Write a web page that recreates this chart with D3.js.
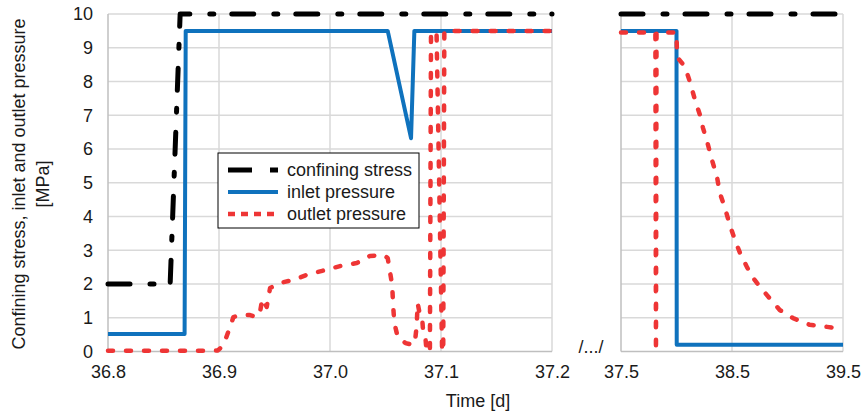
<!DOCTYPE html>
<html><head><meta charset="utf-8">
<script src="https://cdn.jsdelivr.net/npm/d3@7"></script>
<style>
html,body{margin:0;padding:0;background:#fff;}
svg{display:block;font-family:"Liberation Sans",Arial,sans-serif;}
</style></head>
<body>
<svg id="c" width="862" height="420"></svg>
<script>
// ---- data ----
const yTicks = [0,1,2,3,4,5,6,7,8,9,10];
const leftTicks = [36.8,36.9,37.0,37.1,37.2];
const rightTicks = [37.5,38.5,39.5];
const seriesNames = ["confining stress","inlet pressure","outlet pressure"];

// left panel (time in days, value in MPa)
const confiningLeft = [[36.8,2],[36.856,2],[36.865,10],[37.2,10]];
const inletLeft = [[36.8,0.52],[36.869,0.52],[36.870,9.5],[37.052,9.5],[37.073,6.32],[37.076,9.5],[37.2,9.5]];
const outletLeft = [[36.8,0.02],[36.883,0.02],[36.899,0.03],[36.904,0.19],[36.910,0.73],[36.913,1.02],[36.919,1.08],
  [36.928,1.08],[36.934,1.02],[36.937,1.17],[36.939,1.56],[36.943,1.32],[36.946,1.88],[36.955,2.03],[36.967,2.12],
  [36.979,2.27],[36.993,2.39],[37.009,2.53],[37.024,2.62],[37.036,2.83],[37.048,2.86],[37.052,2.77],[37.056,1.97],
  [37.057,1.3],[37.058,0.84],[37.061,0.43],[37.068,0.25],[37.075,0.19],[37.077,0.43],[37.078,0.73],[37.079,1.43],
  [37.081,1.08],[37.083,1.0],[37.084,0.55],[37.086,0.4],[37.087,0],[37.090,0],[37.091,9.45],[37.096,9.45],
  [37.101,0],[37.102,0],[37.103,9.5],[37.2,9.5]];

// right panel
const confiningRight = [[37.5,10],[39.5,10]];
const inletRight = [[37.5,9.5],[38.0,9.5],[38.002,0.2],[39.5,0.2]];
const outletRight = [[37.5,9.45],[37.810,9.45],[37.815,0],[37.820,9.45],[38.0,9.45],[38.005,8.73],[38.077,8.43],
  [38.12,8.0],[38.167,7.45],[38.212,7.0],[38.239,6.62],[38.284,6.12],[38.32,5.67],[38.365,5.17],[38.39,4.7],
  [38.437,4.25],[38.48,3.75],[38.527,3.3],[38.572,2.92],[38.635,2.5],[38.69,2.18],[38.725,2.03],[38.815,1.67],
  [38.93,1.23],[39.05,0.99],[39.2,0.79],[39.356,0.73],[39.5,0.67]];

// ---- layout ----
const svg = d3.select("#c");
const y = d3.scaleLinear([0,10],[351.5,14]);
const xL = d3.scaleLinear([36.8,37.2],[108,552]);
const xR = d3.scaleLinear([37.5,39.5],[621,843]);
const textCol = "#1a1a1a", gridCol = "#d9d9d9", axisCol = "#bfbfbf";
const FS = 18;

const styles = [
  {stroke:"#000000", width:5, dash:"22,20,4,18", cap:"round", legDash:"24,18,8"},
  {stroke:"#0f72bd", width:4, dash:null, cap:"butt", legDash:null},
  {stroke:"#ee3535", width:4.5, dash:"5,13", cap:"round", legDash:"7,6"}
];

function panel(x, ticks, series){
  const g = svg.append("g");
  g.selectAll("line.h").data(yTicks.filter(d=>d>0)).join("line")
    .attr("x1",x.range()[0]).attr("x2",x.range()[1])
    .attr("y1",d=>y(d)).attr("y2",d=>y(d))
    .attr("stroke",gridCol).attr("stroke-width",1.5);
  g.selectAll("line.v").data(ticks.slice(1)).join("line")
    .attr("x1",d=>x(d)).attr("x2",d=>x(d))
    .attr("y1",y(10)).attr("y2",y(0))
    .attr("stroke",gridCol).attr("stroke-width",1.5);
  g.append("line").attr("x1",x.range()[0]).attr("x2",x.range()[0]).attr("y1",y(10)).attr("y2",y(0))
    .attr("stroke",axisCol).attr("stroke-width",1.5);
  g.append("line").attr("x1",x.range()[0]).attr("x2",x.range()[1]).attr("y1",y(0)).attr("y2",y(0))
    .attr("stroke",axisCol).attr("stroke-width",1.5);
  const ax = d3.axisBottom(x).tickValues(ticks).tickSize(0).tickPadding(0).tickFormat(d3.format(".1f"));
  const ag = g.append("g").attr("transform",`translate(0,${y(0)+14})`).call(ax);
  ag.select(".domain").remove();
  ag.selectAll("text").attr("fill",textCol).attr("font-size",FS).attr("font-family","Liberation Sans, Arial, sans-serif");
  const line = d3.line().x(d=>x(d[0])).y(d=>y(d[1]));
  series.forEach((s,i)=>{
    const st = styles[i];
    g.append("path").attr("d",line(s)).attr("fill","none")
      .attr("stroke",st.stroke).attr("stroke-width",st.width)
      .attr("stroke-dasharray",st.dash).attr("stroke-linecap",st.cap).attr("stroke-linejoin","round");
  });
}

panel(xL, leftTicks, [confiningLeft, inletLeft, outletLeft]);
panel(xR, rightTicks, [confiningRight, inletRight, outletRight]);

// y axis labels
const yax = d3.axisLeft(y).tickValues(yTicks).tickSize(0).tickPadding(0).tickFormat(d3.format("d"));
const yg = svg.append("g").attr("transform","translate(93,0)").call(yax);
yg.select(".domain").remove();
yg.selectAll("text").attr("fill",textCol).attr("font-size",FS).attr("font-family","Liberation Sans, Arial, sans-serif");

// y title
const yt = svg.append("text").attr("transform","translate(0,184) rotate(-90)")
  .attr("text-anchor","middle").attr("fill",textCol).attr("font-size",FS);
yt.append("tspan").attr("x",0).attr("y",25).text("Confining stress, inlet and outlet pressure");
yt.append("tspan").attr("x",0).attr("y",49).text("[MPa]");

// x title
svg.append("text").attr("x",478).attr("y",407).attr("text-anchor","middle")
  .attr("fill",textCol).attr("font-size",FS).text("Time [d]");

// break marker
svg.append("text").attr("x",591).attr("y",353).attr("text-anchor","middle")
  .attr("fill",textCol).attr("font-size",FS).text("/.../");

// legend
const lg = svg.append("g");
lg.append("rect").attr("x",218).attr("y",153).attr("width",201).attr("height",75)
  .attr("fill","#fff").attr("stroke","#000").attr("stroke-width",1);
const legY = [170,192,214];
seriesNames.forEach((n,i)=>{
  const st = styles[i];
  lg.append("line").attr("x1",228).attr("x2",278).attr("y1",legY[i]).attr("y2",legY[i])
    .attr("stroke",st.stroke).attr("stroke-width",st.width)
    .attr("stroke-dasharray",st.legDash).attr("stroke-linecap","butt");
  lg.append("text").attr("x",287).attr("y",legY[i]+5.5).attr("fill",textCol).attr("font-size",FS).text(n);
});
</script>
</body></html>
